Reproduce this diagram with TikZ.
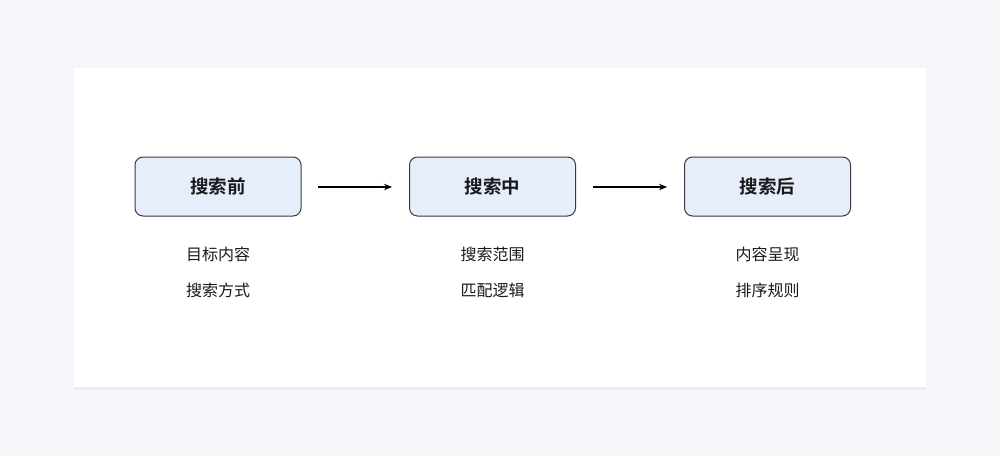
\documentclass[tikz,border=0pt]{standalone}
\usepackage{fontspec}
\newfontfamily\cjk{Noto Sans CJK SC}
\newfontfamily\cjkb{Noto Sans CJK SC Bold}
\usetikzlibrary{arrows.meta}
\definecolor{bg}{HTML}{F5F6FA}
\definecolor{boxfill}{HTML}{E7EEFB}
\definecolor{boxline}{HTML}{3A3A3F}
\definecolor{txt}{HTML}{1A1A1A}
\definecolor{shadow}{HTML}{ECEDF2}
\tikzset{
  stage/.style={draw=boxline, line width=1pt, fill=boxfill, rounded corners=8pt,
    minimum width=166pt, minimum height=59pt, inner sep=0pt,
    font=\cjkb\fontsize{18.5pt}{20pt}\selectfont, text=txt},
  sublabel/.style={font=\cjk\fontsize{16pt}{18pt}\selectfont, text=txt, inner sep=0pt},
  flow/.style={-{Stealth[length=8pt,width=6.5pt]}, line width=1.1pt, draw=black},
}
\begin{document}
\begin{tikzpicture}[x=1pt,y=-1pt]
\useasboundingbox (0,0) rectangle (1000,456);
\fill[bg] (0,0) rectangle (1000,456);
\fill[shadow] (74,70) rectangle (926,390);
\fill[white] (74,68) rectangle (926,387);

\node[stage] (a) at (218,186.5) {搜索前};
\node[stage] (b) at (492.5,186.5) {搜索中};
\node[stage] (c) at (767.5,186.5) {搜索后};

\coordinate (a1) at (318,187);
\coordinate (a2) at (392,187);
\coordinate (b1) at (593,187);
\coordinate (b2) at (667,187);
\draw[flow] (a1) -- (a2);
\draw[flow] (b1) -- (b2);

\node[sublabel] (a3) at (218,254) {目标内容};
\node[sublabel] (a4) at (218,290) {搜索方式};
\node[sublabel] (b3) at (492.5,254) {搜索范围};
\node[sublabel] (b4) at (492.5,290) {匹配逻辑};
\node[sublabel] (c3) at (767.5,254) {内容呈现};
\node[sublabel] (c4) at (767.5,290) {排序规则};
\end{tikzpicture}
\end{document}
